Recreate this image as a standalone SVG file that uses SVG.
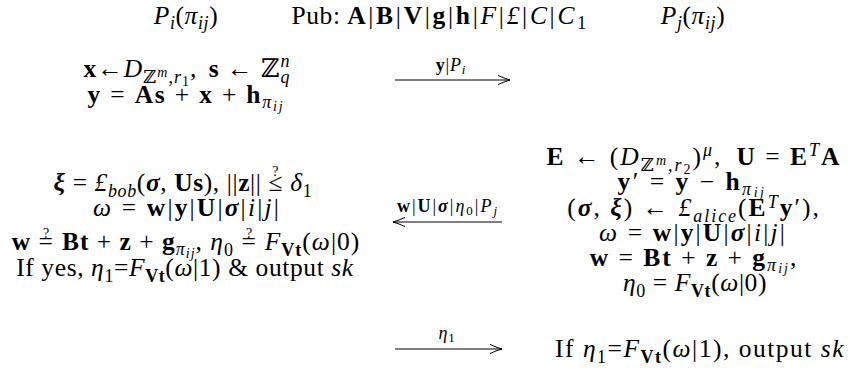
<svg xmlns="http://www.w3.org/2000/svg" width="850" height="371" viewBox="0 0 850 371">
<style>
text{font-family:"Liberation Serif","DejaVu Serif",serif;font-size:25.5px;letter-spacing:0.6px;fill:#000}
.c{text-anchor:middle}
.it{font-style:italic}
.bf{font-weight:bold}
.bi{font-weight:bold;font-style:italic}
.sub{font-size:18px}
.ss{font-size:14px}
.q{font-size:14px}
.wide{letter-spacing:2.7px}
.l10{letter-spacing:1px}
.l15{letter-spacing:1.5px}
.l18{letter-spacing:1.8px}
.l20{letter-spacing:2px}
.l22{letter-spacing:2.15px}
.l25{letter-spacing:2.5px}
.lab{font-size:18px;letter-spacing:0.8px}
.lab2{letter-spacing:2px}
.lab .s2{font-size:13px}
.arr{stroke:#000;stroke-width:1;fill:none}
</style>
<defs>
<marker id="ah" viewBox="-13 -6 14 12" refX="0" refY="0" markerWidth="14" markerHeight="12" markerUnits="userSpaceOnUse" orient="auto">
<path d="M-12,-4.5 Q-4,-1 0,0 Q-4,1 -12,4.5" stroke="#000" stroke-width="1" fill="none"/>
</marker>
</defs>
<rect width="850" height="371" fill="#fff"/>
<g id="header">
<text class="c" x="186" y="24"><tspan class="it">P</tspan><tspan class="sub it" dy="5">i</tspan><tspan dy="-5">(</tspan><tspan class="it">π</tspan><tspan class="sub it" dy="5">ij</tspan><tspan dy="-5">)</tspan></text>
<text class="c" x="316" y="24">Pub:</text>
<text class="c wide" x="468" y="24"><tspan class="bf">A</tspan>|<tspan class="bf">B</tspan>|<tspan class="bf">V</tspan>|<tspan class="bf">g</tspan>|<tspan class="bf">h</tspan>|<tspan class="it">F</tspan>|<tspan class="it">£</tspan>|<tspan class="it">C</tspan>|<tspan class="it">C</tspan><tspan class="sub" dy="5">1</tspan></text>
<text class="c" x="693" y="24"><tspan class="it">P</tspan><tspan class="sub it" dy="5">j</tspan><tspan dy="-5">(</tspan><tspan class="it">π</tspan><tspan class="sub it" dy="5">ij</tspan><tspan dy="-5">)</tspan></text>
</g>
<g id="node-pi-step1">
<text class="c l10" x="187" y="77"><tspan class="bf">x</tspan>←<tspan class="it">D</tspan><tspan class="sub" dy="6">ℤ</tspan><tspan class="ss it" dy="-6">m</tspan><tspan class="sub" dy="6">,</tspan><tspan class="sub it">r</tspan><tspan class="ss" dy="3">1</tspan><tspan dy="-9">, </tspan><tspan class="bf" dx="4">s</tspan> ← ℤ<tspan class="sub it" dy="6">q</tspan><tspan class="sub it" dx="-10" dy="-16">n</tspan></text>
<text class="c l18" x="186" y="103"><tspan class="bf">y</tspan> = <tspan class="bf">As</tspan> + <tspan class="bf">x</tspan> + <tspan class="bf">h</tspan><tspan class="sub it" dy="5">π</tspan><tspan class="ss it" dy="3">ij</tspan></text>
</g>
<g id="node-pi-step2">
<text class="c" x="183" y="191"><tspan class="bi">ξ</tspan> = <tspan class="it">£</tspan><tspan class="sub it" dy="6">bob</tspan><tspan dy="-6">(</tspan><tspan class="bi">σ</tspan>, <tspan class="bf">Us</tspan>), ||<tspan class="bf">z</tspan>|| ≤<tspan class="q" dx="-10.8" dy="-15">?</tspan><tspan dx="4.2" dy="15"> </tspan><tspan class="it">δ</tspan><tspan class="sub" dy="6">1</tspan></text>
<text class="c l22" x="187" y="216"><tspan class="it">ω</tspan> = <tspan class="bf">w</tspan>|<tspan class="bf">y</tspan>|<tspan class="bf">U</tspan>|<tspan class="bi">σ</tspan>|<tspan class="it">i</tspan>|<tspan class="it">j</tspan>|</text>
<text class="c l10" x="186" y="250"><tspan class="bf">w</tspan> =<tspan class="q" dx="-10.9" dy="-12">?</tspan><tspan dx="4.3" dy="12"> </tspan><tspan class="bf">Bt</tspan> + <tspan class="bf">z</tspan> + <tspan class="bf">g</tspan><tspan class="sub it" dy="5">π</tspan><tspan class="ss it" dy="3">ij</tspan><tspan dy="-8">, </tspan><tspan class="it">η</tspan><tspan class="sub" dy="6">0</tspan><tspan dy="-6"> =</tspan><tspan class="q" dx="-10.9" dy="-12">?</tspan><tspan dx="4.3" dy="12"> </tspan><tspan class="it">F</tspan><tspan class="sub bf" dy="6">Vt</tspan><tspan dy="-6">(</tspan><tspan class="it">ω</tspan>|0)</text>
<text class="c" x="185" y="276">If yes, <tspan class="it">η</tspan><tspan class="sub" dy="6">1</tspan><tspan dy="-6">=</tspan><tspan class="it">F</tspan><tspan class="sub bf" dy="6">Vt</tspan><tspan dy="-6">(</tspan><tspan class="it">ω</tspan>|1) &amp; output <tspan class="it">sk</tspan></text>
</g>
<g id="node-pj-step1">
<text class="c l20" x="694" y="165"><tspan class="bf">E</tspan> ← (<tspan class="it">D</tspan><tspan class="sub" dy="6">ℤ</tspan><tspan class="ss it" dy="-6">m</tspan><tspan class="sub" dy="6">,</tspan><tspan class="sub it">r</tspan><tspan class="ss" dy="3">2</tspan><tspan dy="-9">)</tspan><tspan class="sub it" dy="-9">μ</tspan><tspan dy="9">,</tspan><tspan class="bf" dx="14">U</tspan> = <tspan class="bf">E</tspan><tspan class="sub it" dy="-9">T</tspan><tspan class="bf" dy="9">A</tspan></text>
<text class="c l25" x="692" y="190"><tspan class="bf">y</tspan>′ = <tspan class="bf">y</tspan> − <tspan class="bf">h</tspan><tspan class="sub it" dy="5">π</tspan><tspan class="ss it" dy="2">ij</tspan></text>
<text class="c l20" x="694" y="216">(<tspan class="bi">σ</tspan>, <tspan class="bi">ξ</tspan>) ← <tspan class="it">£</tspan><tspan class="sub it" dy="6">alice</tspan><tspan dy="-6">(</tspan><tspan class="bf">E</tspan><tspan class="sub it" dy="-8">T</tspan><tspan class="bf" dy="8">y</tspan>′),</text>
<text class="c l22" x="693" y="241"><tspan class="it">ω</tspan> = <tspan class="bf">w</tspan>|<tspan class="bf">y</tspan>|<tspan class="bf">U</tspan>|<tspan class="bi">σ</tspan>|<tspan class="it">i</tspan>|<tspan class="it">j</tspan>|</text>
<text class="c l20" x="694" y="266"><tspan class="bf">w</tspan> = <tspan class="bf">Bt</tspan> + <tspan class="bf">z</tspan> + <tspan class="bf">g</tspan><tspan class="sub it" dy="5">π</tspan><tspan class="ss it" dy="2">ij</tspan><tspan dy="-7">,</tspan></text>
<text class="c" x="695" y="291"><tspan class="it">η</tspan><tspan class="sub" dy="6">0</tspan><tspan dy="-6"> = </tspan><tspan class="it">F</tspan><tspan class="sub bf" dy="6">Vt</tspan><tspan dy="-6">(</tspan><tspan class="it">ω</tspan>|0)</text>
</g>
<g id="node-pj-step2">
<text class="c l15" x="700" y="357">If <tspan class="it">η</tspan><tspan class="sub" dy="6">1</tspan><tspan dy="-6">=</tspan><tspan class="it">F</tspan><tspan class="sub bf" dy="6">Vt</tspan><tspan dy="-6">(</tspan><tspan class="it">ω</tspan>|1), output <tspan class="it">sk</tspan></text>
</g>
<g id="connectors">
<path class="arr" d="M395,80 H510" marker-end="url(#ah)"/>
<text class="c lab" x="451" y="71"><tspan class="bf">y</tspan>|<tspan class="it">P</tspan><tspan class="s2 it" dy="3">i</tspan></text>
<path class="arr" d="M502,222 H393" marker-end="url(#ah)"/>
<text class="c lab lab2" x="448" y="212"><tspan class="bf">w</tspan>|<tspan class="bf">U</tspan>|<tspan class="bi">σ</tspan>|<tspan class="it">η</tspan><tspan class="s2" dy="3">0</tspan><tspan dy="-3">|</tspan><tspan class="it">P</tspan><tspan class="s2 it" dy="3">j</tspan></text>
<path class="arr" d="M395,349 H502" marker-end="url(#ah)"/>
<text class="c lab" x="447" y="339"><tspan class="it">η</tspan><tspan class="s2" dy="3">1</tspan></text>
</g>
</svg>
